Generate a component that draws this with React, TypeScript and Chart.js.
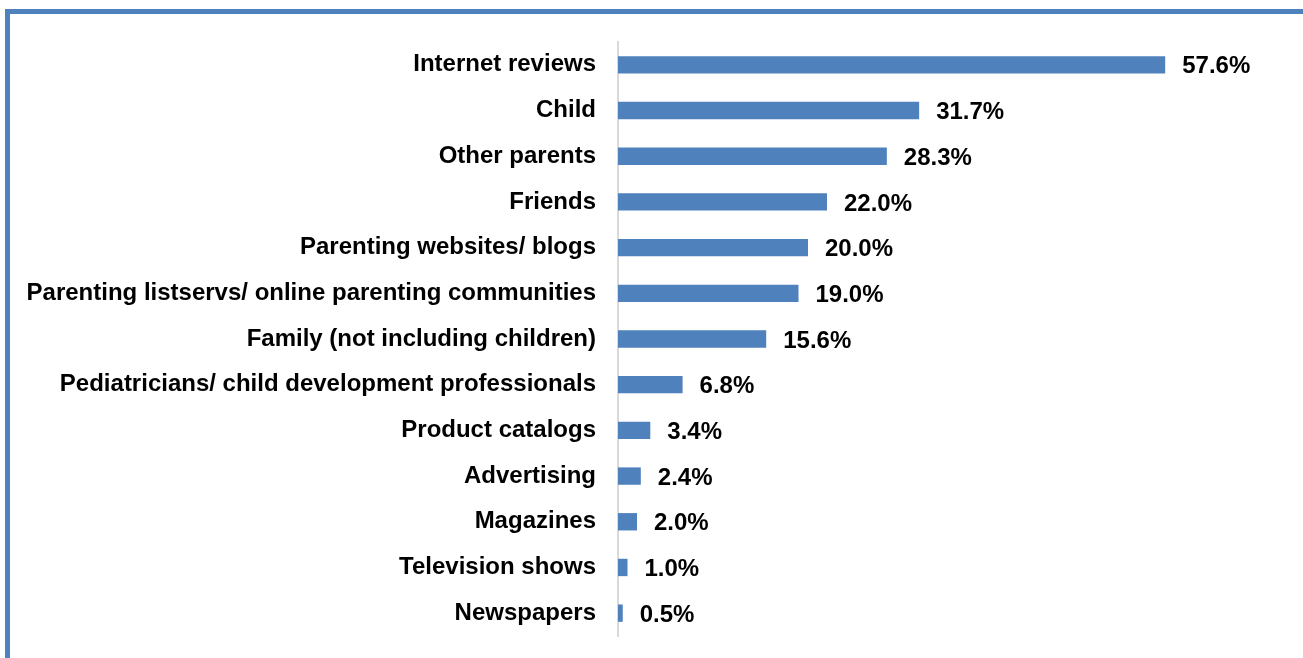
import React, { useEffect, useRef } from "react";
import { Chart, registerables } from "chart.js";

Chart.register(...registerables);

const categories = [
  "Internet reviews",
  "Child",
  "Other parents",
  "Friends",
  "Parenting websites/ blogs",
  "Parenting listservs/ online parenting communities",
  "Family (not including children)",
  "Pediatricians/ child development professionals",
  "Product catalogs",
  "Advertising",
  "Magazines",
  "Television shows",
  "Newspapers",
];

const values = [57.6, 31.7, 28.3, 22.0, 20.0, 19.0, 15.6, 6.8, 3.4, 2.4, 2.0, 1.0, 0.5];

const FONT = "'Liberation Sans', Arial, Helvetica, sans-serif";

const valueLabels = {
  id: "valueLabels",
  afterDatasetsDraw(chart: any) {
    const ctx = chart.ctx;
    const meta = chart.getDatasetMeta(0);
    ctx.save();
    ctx.font = `bold 24px ${FONT}`;
    ctx.fillStyle = "#000000";
    ctx.textAlign = "left";
    ctx.textBaseline = "middle";
    meta.data.forEach((bar: any, i: number) => {
      const v = chart.data.datasets[0].data[i] as number;
      ctx.fillText(v.toFixed(1) + "%", bar.x + 17, bar.y + 2);
    });
    ctx.restore();
  },
};

export default function App() {
  const canvasRef = useRef<HTMLCanvasElement | null>(null);

  useEffect(() => {
    if (!canvasRef.current) return;
    const chart = new Chart(canvasRef.current, {
      type: "bar",
      data: {
        labels: categories,
        datasets: [
          {
            data: values,
            backgroundColor: "#4F81BD",
            borderWidth: 0,
            categoryPercentage: 1,
            barPercentage: 0.38,
          },
        ],
      },
      plugins: [valueLabels],
      options: {
        indexAxis: "y",
        responsive: false,
        animation: false,
        layout: { padding: { top: 42, bottom: 22, right: 115, left: 0 } },
        plugins: {
          legend: { display: false },
          tooltip: { enabled: false },
        },
        scales: {
          x: {
            display: false,
            min: 0,
            max: 60,
          },
          y: {
            afterFit: (s: any) => {
              s.width = 618;
              s.paddingTop = 0;
              s.paddingBottom = 0;
            },
            grid: { display: false, drawTicks: false },
            border: { display: true, color: "#D9D9D9", width: 2 },
            ticks: {
              padding: 22,
              color: "#000000",
              font: { family: FONT, size: 24, weight: "bold" },
            },
          },
        },
      },
    });
    return () => chart.destroy();
  }, []);

  return (
    <div
      style={{
        position: "fixed",
        left: 0,
        top: 0,
        width: 1303,
        height: 658,
        background: "#ffffff",
        overflow: "hidden",
      }}
    >
      <div
        style={{
          position: "absolute",
          left: 5,
          top: 9,
          width: 1400,
          height: 800,
          borderLeft: "5px solid #4F81BD",
          borderTop: "5px solid #4F81BD",
          boxSizing: "border-box",
        }}
      />
      <canvas
        ref={canvasRef}
        width={1303}
        height={658}
        style={{ position: "absolute", left: 0, top: 0, display: "block" }}
      />
    </div>
  );
}
